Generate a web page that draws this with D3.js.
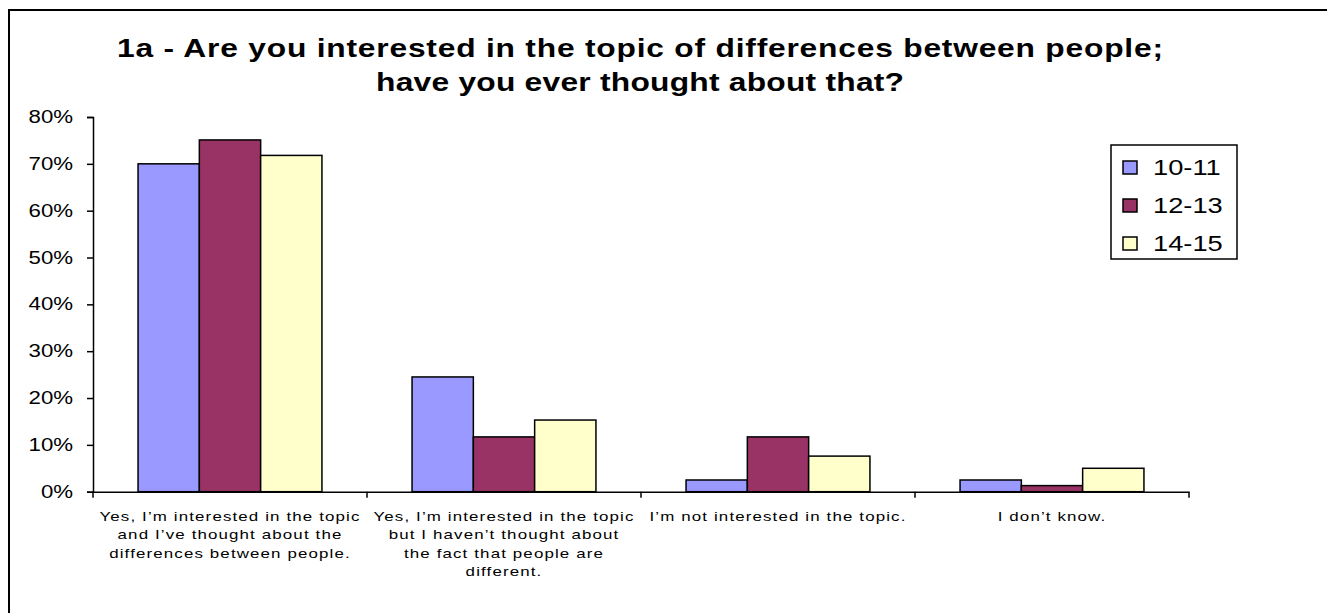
<!DOCTYPE html>
<html>
<head>
<meta charset="utf-8">
<script src="https://cdn.jsdelivr.net/npm/d3@7"></script>
<style>
  body { margin: 0; background: #fff; }
  svg { display: block; }
</style>
</head>
<body>
<div id="chart"></div>
<script>
const titleLines = [
  "1a - Are you interested in the topic of differences between people;",
  "have you ever thought about that?"
];
const categories = ["yes_thought", "yes_not_thought", "not_interested", "dont_know"];
const categoryLabels = [
  ["Yes, I’m interested in the topic", "and I’ve thought about the", "differences between people."],
  ["Yes, I’m interested in the topic", "but I haven’t thought about", "the fact that people are", "different."],
  ["I’m not interested in the topic."],
  ["I don’t know."]
];
const seriesNames = ["10-11", "12-13", "14-15"];
const seriesColors = ["#9999ff", "#993366", "#ffffcc"];
const values_10_11 = [70.0, 24.5, 2.5, 2.5];
const values_12_13 = [75.1, 11.7, 11.7, 1.3];
const values_14_15 = [71.8, 15.3, 7.6, 5.0];
const yTicks = [0, 10, 20, 30, 40, 50, 60, 70, 80];

const allValues = [values_10_11, values_12_13, values_14_15];

const width = 1327;
const height = 613;
const margin = { top: 117, left: 93, right: 138, bottom: 121 };
// the original picture is stretched sideways, so text gets a wider scale
const stretch = 1.27;

const svg = d3.select("#chart")
  .append("svg")
  .attr("width", width)
  .attr("height", height)
  .style("font-family", "'Liberation Sans', Arial, sans-serif");

function wideText(parent, x, y, str, size, anchor) {
  return parent.append("g")
    .attr("transform", `translate(${x},${y}) scale(${stretch},1)`)
    .append("text")
    .attr("text-anchor", anchor)
    .attr("font-size", size)
    .attr("fill", "#000")
    .text(str);
}

// outer chart frame (right and bottom run off the picture)
svg.append("rect")
  .attr("x", 9)
  .attr("y", 10)
  .attr("width", 1340)
  .attr("height", 640)
  .attr("fill", "none")
  .attr("stroke", "#000")
  .attr("stroke-width", 2);

// title
const titleWidths = [1046, 528];
titleLines.forEach((t, i) => {
  wideText(svg, 640, 57 + i * 34, t, "25px", "middle")
    .attr("font-weight", "bold")
    .attr("textLength", titleWidths[i] / stretch)
    .attr("lengthAdjust", "spacing");
});

const y = d3.scaleLinear()
  .domain([0, 80])
  .range([height - margin.bottom - 0.3, margin.top]);

const x0 = d3.scaleBand()
  .domain(categories)
  .range([margin.left, width - margin.right]);

const x1 = d3.scaleBand()
  .domain(seriesNames)
  .range([0, x0.bandwidth()])
  .paddingOuter(0.735);

// y axis
const yAxis = svg.append("g")
  .attr("transform", `translate(${margin.left},0)`)
  .call(d3.axisLeft(y).tickValues(yTicks).tickFormat(d => d + "%").tickSize(6).tickPadding(14));
yAxis.select(".domain").attr("stroke", "#000").attr("stroke-width", 1.5);
yAxis.selectAll(".tick line").attr("stroke", "#000").attr("stroke-width", 1.5);
yAxis.selectAll(".tick text")
  .attr("x", null)
  .attr("transform", `translate(-20,0) scale(${stretch},1)`)
  .attr("font-size", "17.5px")
  .attr("font-family", "'Liberation Sans', Arial, sans-serif")
  .attr("fill", "#000");

// bars
seriesNames.forEach((s, si) => {
  svg.append("g")
    .selectAll("rect")
    .data(allValues[si])
    .join("rect")
    .attr("x", (d, i) => x0(categories[i]) + x1(s))
    .attr("y", d => y(d))
    .attr("width", x1.bandwidth())
    .attr("height", d => y(0) - y(d))
    .attr("fill", seriesColors[si])
    .attr("stroke", "#000")
    .attr("stroke-width", 1.5);
});

// x axis
const xAxis = svg.append("g")
  .attr("transform", `translate(0,${y(0)})`)
  .call(d3.axisBottom(x0).tickSize(0).tickFormat(""));
xAxis.select(".domain").attr("stroke", "#000").attr("stroke-width", 1.5);

const boundaries = categories.map(c => x0(c)).concat([x0.range()[1]]);
xAxis.selectAll(".boundary")
  .data(boundaries)
  .join("line")
  .attr("x1", d => d)
  .attr("x2", d => d)
  .attr("y1", 0)
  .attr("y2", 6)
  .attr("stroke", "#000")
  .attr("stroke-width", 1.5);

// category labels, wrapped as in the original
categoryLabels.forEach((lines, i) => {
  const cx = x0(categories[i]) + x0.bandwidth() / 2;
  lines.forEach((line, j) => {
    wideText(svg, cx, y(0) + 29 + j * 18.5, line, "13.3px", "middle")
      .attr("letter-spacing", "0.9px");
  });
});

// legend
const legend = svg.append("g").attr("transform", "translate(1111,145)");
legend.append("rect")
  .attr("width", 126)
  .attr("height", 114)
  .attr("fill", "#fff")
  .attr("stroke", "#000")
  .attr("stroke-width", 1.5);

seriesNames.forEach((s, i) => {
  const row = legend.append("g").attr("transform", `translate(0, ${22 + i * 38})`);
  row.append("rect")
    .attr("x", 12)
    .attr("y", -6)
    .attr("width", 14)
    .attr("height", 13)
    .attr("fill", seriesColors[i])
    .attr("stroke", "#000")
    .attr("stroke-width", 1.5);
  wideText(row, 42, 8, s, "21.5px", "start");
});
</script>
</body>
</html>
